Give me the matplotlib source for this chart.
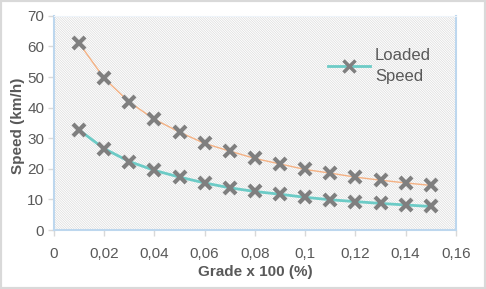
import matplotlib
matplotlib.use("Agg")
import matplotlib.pyplot as plt
from matplotlib.patches import Rectangle

# grade (as fraction) and speeds
grade = [0.01, 0.02, 0.03, 0.04, 0.05, 0.06, 0.07, 0.08,
         0.09, 0.10, 0.11, 0.12, 0.13, 0.14, 0.15]
speed_upper = [61.1, 49.6, 41.8, 36.2, 32.0, 28.3, 25.8, 23.4,
               21.6, 19.8, 18.6, 17.3, 16.3, 15.4, 14.6]
loaded_speed = [32.7, 26.6, 22.4, 19.5, 17.3, 15.4, 13.8, 12.6,
                11.7, 10.7, 9.9, 9.3, 8.7, 8.2, 7.7]

xticks = [0, 0.02, 0.04, 0.06, 0.08, 0.10, 0.12, 0.14, 0.16]
xtick_labels = ["0", "0,02", "0,04", "0,06", "0,08", "0,1", "0,12", "0,14", "0,16"]
yticks = [0, 10, 20, 30, 40, 50, 60, 70]

plt.rcParams["font.family"] = ["Liberation Sans", "DejaVu Sans"]
plt.rcParams["hatch.linewidth"] = 0.4

fig = plt.figure(figsize=(4.86, 2.89), dpi=100)
fig.patch.set_facecolor("white")
fig.patches.append(Rectangle((0, 0), 1, 1, transform=fig.transFigure,
                             fill=False, edgecolor="#d9d9d9", lw=3))

ax = fig.add_axes([0.111, 0.204, 0.827, 0.741])
ax.add_patch(Rectangle((0, 0), 1, 1, transform=ax.transAxes, facecolor="white",
                       edgecolor="#d4d4d4", hatch="\\" * 14, lw=0, zorder=0))

mk = dict(marker="x", markersize=9, markeredgewidth=3, color="#7f7f7f")
ax.plot(grade, speed_upper, color="#f4b183", lw=1, zorder=2)
ax.plot(grade, speed_upper, ls="none", zorder=3, **mk)
ax.plot(grade, loaded_speed, color="#6ccbc6", lw=2, zorder=2)
ax.plot(grade, loaded_speed, ls="none", zorder=3, **mk)

# legend handle: teal line with grey cross
h, = ax.plot([], [], color="#6ccbc6", lw=2, marker="x", markersize=8,
             markeredgewidth=2.5, markeredgecolor="#7f7f7f")
leg = ax.legend([h], ["Loaded\nSpeed"], loc="upper left",
                bbox_to_anchor=(0.645, 0.92), frameon=False,
                handlelength=2.5, handletextpad=0.3, fontsize=12)
for t in leg.get_texts():
    t.set_color("#595959")
    t.set_linespacing(1.5)

ax.set_xlim(0, 0.16)
ax.set_ylim(0, 70)
ax.set_xticks(xticks)
ax.set_xticklabels(xtick_labels)
ax.set_yticks(yticks)
ax.tick_params(colors="#d9d9d9", labelcolor="#595959", labelsize=11,
               length=4, width=1)
ax.tick_params(axis="x", pad=8)
ax.tick_params(axis="y", pad=3)

for side in ["left", "bottom", "right"]:
    ax.spines[side].set_color("#bdd7ee")
    ax.spines[side].set_linewidth(1.5)
ax.spines["top"].set_color("#eef4fa")

fig.text(255 / 486, 1 - 272 / 289, "Grade x 100 (%)", ha="center", va="center",
         fontsize=11, fontweight="bold", color="#595959")
fig.text(18 / 486, 1 - 126 / 289, "Speed (km/h)", ha="center", va="center",
         rotation=90, fontsize=11, fontweight="bold", color="#595959")

fig.savefig("out.png", dpi=100)
